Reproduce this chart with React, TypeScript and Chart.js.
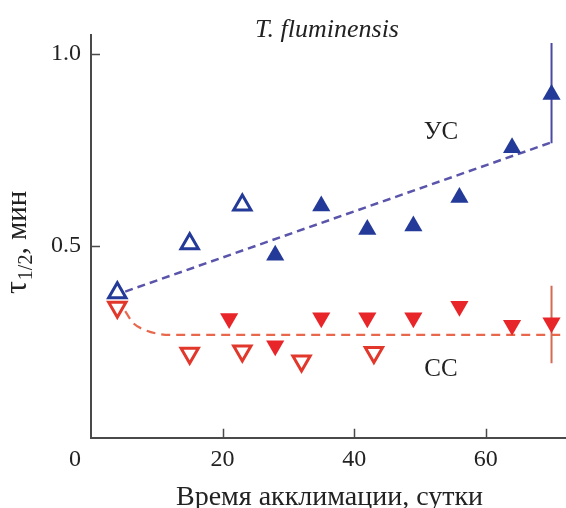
import React, { useEffect, useRef } from 'react';
import { Chart, registerables } from 'chart.js';

Chart.register(...registerables);

const SERIF = "'Liberation Serif', 'Times New Roman', 'DejaVu Serif', serif";

// ---- text ----
const TITLE = 'T. fluminensis';
const X_TITLE = 'Время акклимации, сутки';
const Y_TITLE_MAIN = 'τ';
const Y_TITLE_SUB = '1/2';
const Y_TITLE_REST = ', мин';
const ORIGIN_LABEL = '0';

// ---- axes ----
const X_MIN = 0;
const X_MAX = 72.2;
const Y_MIN = 0;
const Y_MAX = 1.05;
const X_TICKS = [20, 40, 60];
const Y_TICKS = [0.5, 1.0];
const Y_TICK_LABELS = ['0.5', '1.0'];

// ---- data: УС (blue, up triangles) ----
const US_OPEN_X = [4, 15, 23];
const US_OPEN_Y = [0.378, 0.506, 0.607];
const US_FILLED_X = [28, 35, 42, 49, 56, 64, 70];
const US_FILLED_Y = [0.476, 0.604, 0.543, 0.552, 0.626, 0.756, 0.895];
const US_FIT_X = [5.2, 70.3];
const US_FIT_Y = [0.381, 0.772];
const US_ERR_X = [70, 70];
const US_ERR_Y = [0.768, 1.029];

// ---- data: СС (red, down triangles) ----
const SS_OPEN_X = [4, 15, 23, 32, 43];
const SS_OPEN_Y = [0.34, 0.22, 0.226, 0.2, 0.222];
const SS_FILLED_X = [21, 28, 35, 42, 49, 56, 64, 70];
const SS_FILLED_Y = [0.311, 0.24, 0.313, 0.313, 0.313, 0.343, 0.293, 0.3];
const SS_FIT_X = [5.2, 6.4, 8.2, 10.5, 12.3, 72.2];
const SS_FIT_Y = [0.33, 0.299, 0.281, 0.27, 0.268, 0.268];
const SS_ERR_X = [70, 70];
const SS_ERR_Y = [0.194, 0.396];

// ---- series labels (data coordinates) ----
const SERIES_LABELS = ['УС', 'СС'];
const SERIES_LABEL_X = [53.2, 53.2];
const SERIES_LABEL_Y = [0.795, 0.179];

const BLUE = '#243a98';
const BLUE_LINE = '#5a55aa';
const BLUE_ERR = '#4a4aa2';
const RED = '#e8262a';
const RED_OPEN = '#e2382c';
const RED_LINE = '#e8684e';
const RED_ERR = '#d46a55';
const INK = '#222222';
const AXIS = '#4a4a4a';

const pts = (xs: number[], ys: number[]) => xs.map((x, i) => ({ x, y: ys[i] }));

const decor = {
  id: 'decor',
  afterDraw(chart: any) {
    const { ctx, chartArea: a, scales } = chart;
    const xs = scales.x;
    const ys = scales.y;
    ctx.save();
    // inner tick marks
    ctx.strokeStyle = AXIS;
    ctx.lineWidth = 1.5;
    ctx.beginPath();
    Y_TICKS.forEach((v) => {
      const py = Math.round(ys.getPixelForValue(v)) + 0.5;
      ctx.moveTo(a.left, py);
      ctx.lineTo(a.left + 9, py);
    });
    X_TICKS.forEach((v) => {
      const px = Math.round(xs.getPixelForValue(v)) + 0.5;
      ctx.moveTo(px, a.bottom);
      ctx.lineTo(px, a.bottom - 9);
    });
    ctx.stroke();

    ctx.fillStyle = INK;
    // origin label
    ctx.font = `24px ${SERIF}`;
    ctx.textAlign = 'right';
    ctx.textBaseline = 'middle';
    ctx.fillText(ORIGIN_LABEL, a.left - 10, a.bottom + 22.4);

    // title
    ctx.font = `italic 26px ${SERIF}`;
    ctx.textAlign = 'center';
    ctx.textBaseline = 'alphabetic';
    ctx.fillText(TITLE, 327, 37);

    // x title
    ctx.font = `28px ${SERIF}`;
    ctx.fillText(X_TITLE, 329.5, 505);

    // series labels
    ctx.font = `25px ${SERIF}`;
    ctx.textBaseline = 'middle';
    SERIES_LABELS.forEach((t, i) => {
      ctx.fillText(t, xs.getPixelForValue(SERIES_LABEL_X[i]), ys.getPixelForValue(SERIES_LABEL_Y[i]));
    });

    // y title (rotated, with subscript)
    ctx.translate(26, 294);
    ctx.rotate(-Math.PI / 2);
    ctx.textAlign = 'left';
    ctx.textBaseline = 'alphabetic';
    ctx.font = `32px ${SERIF}`;
    ctx.fillText(Y_TITLE_MAIN, 0, 0);
    let w = ctx.measureText(Y_TITLE_MAIN).width + 1;
    ctx.font = `20px ${SERIF}`;
    ctx.fillText(Y_TITLE_SUB, w, 6);
    w += ctx.measureText(Y_TITLE_SUB).width;
    ctx.font = `29px ${SERIF}`;
    ctx.fillText(Y_TITLE_REST, w, 0);
    ctx.restore();
  },
};

export default function App() {
  const ref = useRef<HTMLCanvasElement | null>(null);
  useEffect(() => {
    if (!ref.current) return;
    Chart.defaults.font.family = SERIF;
    const chart = new Chart(ref.current, {
      type: 'scatter',
      data: {
        datasets: [
          {
            label: 'УС open',
            data: pts(US_OPEN_X, US_OPEN_Y),
            pointStyle: 'triangle',
            pointRadius: 10,
            backgroundColor: '#ffffff',
            borderColor: BLUE,
            borderWidth: 3,
          },
          {
            label: 'УС filled',
            data: pts(US_FILLED_X, US_FILLED_Y),
            pointStyle: 'triangle',
            pointRadius: 10.5,
            backgroundColor: BLUE,
            borderColor: BLUE,
            borderWidth: 0,
          },
          {
            label: 'СС open',
            data: pts(SS_OPEN_X, SS_OPEN_Y),
            pointStyle: 'triangle',
            rotation: 180,
            pointRadius: 10,
            backgroundColor: '#ffffff',
            borderColor: RED_OPEN,
            borderWidth: 3,
          },
          {
            label: 'СС filled',
            data: pts(SS_FILLED_X, SS_FILLED_Y),
            pointStyle: 'triangle',
            rotation: 180,
            pointRadius: 10.5,
            backgroundColor: RED,
            borderColor: RED,
            borderWidth: 0,
          },
          {
            label: 'УС err',
            data: pts(US_ERR_X, US_ERR_Y),
            showLine: true,
            pointRadius: 0,
            borderColor: BLUE_ERR,
            borderWidth: 2,
          },
          {
            label: 'СС err',
            data: pts(SS_ERR_X, SS_ERR_Y),
            showLine: true,
            pointRadius: 0,
            borderColor: RED_ERR,
            borderWidth: 2,
          },
          {
            label: 'УС fit',
            data: pts(US_FIT_X, US_FIT_Y),
            showLine: true,
            pointRadius: 0,
            borderColor: BLUE_LINE,
            borderWidth: 2.5,
            borderDash: [8, 5],
          },
          {
            label: 'СС fit',
            data: pts(SS_FIT_X, SS_FIT_Y),
            showLine: true,
            pointRadius: 0,
            borderColor: RED_LINE,
            borderWidth: 2.2,
            borderDash: [9, 6],
            cubicInterpolationMode: 'monotone',
          },
        ],
      },
      options: {
        animation: false,
        responsive: false,
        devicePixelRatio: 1,
        layout: { autoPadding: false, padding: { top: 35, left: 0, right: 0, bottom: 0 } },
        plugins: { legend: { display: false }, tooltip: { enabled: false }, title: { display: false } },
        scales: {
          x: {
            type: 'linear',
            min: X_MIN,
            max: X_MAX,
            afterFit: (s: any) => { s.height = 70.3; s.paddingLeft = 0; s.paddingRight = 0; },
            grid: { display: false, drawTicks: false },
            border: { display: true, color: AXIS, width: 2 },
            ticks: {
              stepSize: 20,
              includeBounds: false,
              padding: 8,
              color: INK,
              font: { size: 24, family: SERIF },
              maxRotation: 0,
              callback: (v: any) => (X_TICKS.includes(Number(v)) ? String(v) : ''),
            },
          },
          y: {
            type: 'linear',
            min: Y_MIN,
            max: Y_MAX,
            afterFit: (s: any) => { s.width = 91; s.paddingTop = 0; s.paddingBottom = 0; },
            grid: { display: false, drawTicks: false },
            border: { display: true, color: AXIS, width: 2 },
            ticks: {
              stepSize: 0.5,
              includeBounds: false,
              padding: 10,
              color: INK,
              font: { size: 24, family: SERIF },
              callback: (v: any) => {
                const i = Y_TICKS.findIndex((t) => Math.abs(t - Number(v)) < 1e-6);
                return i >= 0 ? Y_TICK_LABELS[i] : '';
              },
            },
          },
        },
      },
      plugins: [decor],
    } as any);
    return () => chart.destroy();
  }, []);
  return (
    <div style={{ position: 'absolute', left: 0, top: 0, width: 566, height: 508, background: '#fff' }}>
      <canvas ref={ref} width={566} height={508} style={{ display: 'block' }} />
    </div>
  );
}
